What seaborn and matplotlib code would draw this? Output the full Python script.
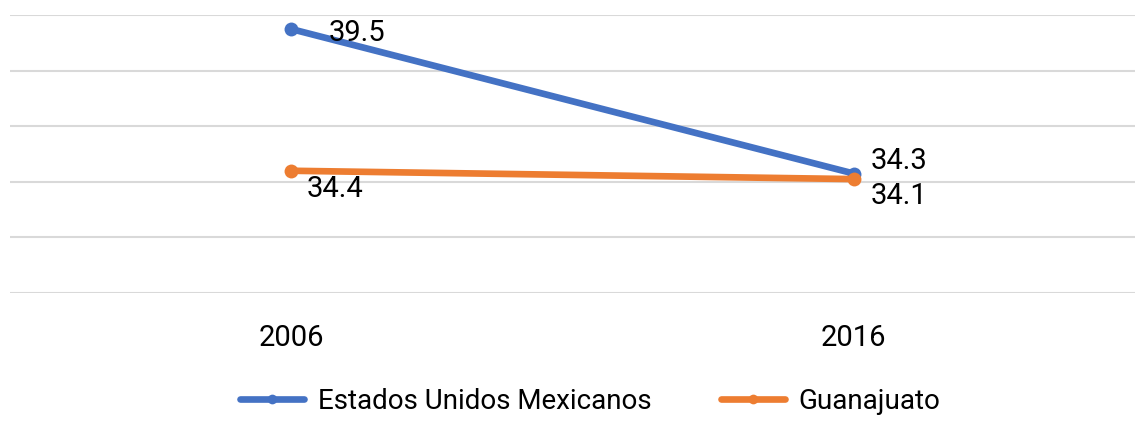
import pandas as pd
import seaborn as sns
import matplotlib.pyplot as plt

YEARS = ["2006", "2016"]
MEXICO = [39.5, 34.3]
GUANAJUATO = [34.4, 34.1]
SERIES_NAMES = ["Estados Unidos Mexicanos", "Guanajuato"]
COLORS = ["#4472C4", "#ED7D31"]


def build_frame():
    rows = []
    for name, values in zip(SERIES_NAMES, [MEXICO, GUANAJUATO]):
        for i, (year, v) in enumerate(zip(YEARS, values)):
            rows.append({"pos": i, "year": year, "serie": name, "valor": v})
    return pd.DataFrame(rows)


def main():
    sns.set_style("white")
    plt.rcParams['font.family'] = ['Roboto', 'DejaVu Sans']
    plt.rcParams['text.color'] = 'black'
    plt.rcParams['xtick.color'] = 'black'
    df = build_frame()

    fig = plt.figure(figsize=(11.35, 4.21), dpi=100)
    ax = fig.add_axes([0.0088, 0.304, 0.9912, 0.66])

    sns.lineplot(data=df, x="pos", y="valor", hue="serie", palette=COLORS,
                 marker="o", markersize=10, markeredgewidth=0, linewidth=4.8,
                 ax=ax, legend=False)

    ax.set_xlim(-0.5, 1.5)
    ax.set_ylim(30, 40)
    ax.set_yticks([30, 32, 34, 36, 38, 40])
    ax.set_yticklabels([])
    ax.grid(axis="y", color="#D9D9D9", linewidth=1.5)
    ax.set_axisbelow(True)
    ax.set_xticks(range(len(YEARS)))
    ax.set_xticklabels(YEARS, fontsize=21)
    ax.tick_params(axis="x", length=0, pad=22)
    ax.tick_params(axis="y", length=0)
    ax.set_xlabel("")
    ax.set_ylabel("")
    for s in ax.spines.values():
        s.set_visible(False)

    # data labels: (series, year index) -> offset in points
    offsets = {
        (0, 0): (27, -3), (0, 1): (12, 9),
        (1, 0): (11, -13), (1, 1): (12, -12),
    }
    for si, values in enumerate([MEXICO, GUANAJUATO]):
        for i, v in enumerate(values):
            dx, dy = offsets[(si, i)]
            ax.annotate(f"{v:.1f}", (i, v), xytext=(dx, dy), textcoords="offset points",
                        ha="left", va="center", fontsize=21, color="black")

    handles = [plt.Line2D([], [], color=c, linewidth=4.8, marker="o", markersize=7,
                          markeredgewidth=0) for c in COLORS]
    fig.legend(handles, SERIES_NAMES, loc="lower center", bbox_to_anchor=(0.52, -0.045),
               ncol=2, frameon=False, fontsize=20, handlelength=2.3, columnspacing=2.5,
               handletextpad=0.5)

    fig.savefig("out.png", dpi=100)


if __name__ == "__main__":
    main()
